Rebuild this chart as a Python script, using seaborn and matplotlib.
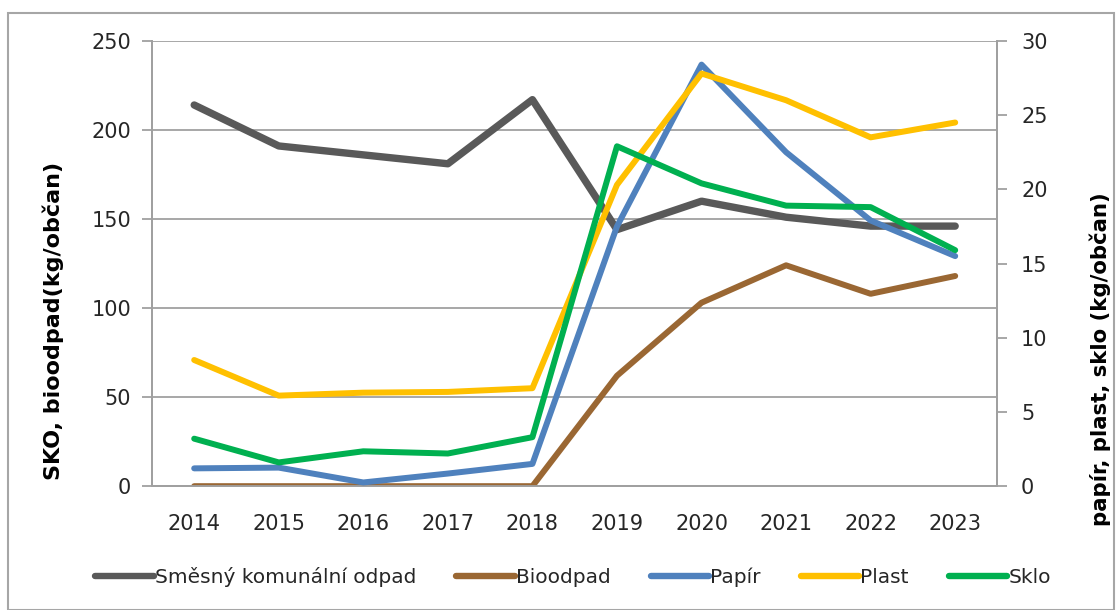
import pandas as pd
import numpy as np
import matplotlib.pyplot as plt
import seaborn as sns
from matplotlib.patches import Rectangle

# data (kg per citizen)
years = ["2014", "2015", "2016", "2017", "2018", "2019", "2020", "2021", "2022", "2023"]
sko = [214, 191, 186, 181, 217, 144, 160, 151, 146, 146]
bioodpad = [0, 0, 0, 0, 0, 62, 103, 124, 108, 118]
papir = [1.2, 1.25, 0.25, 0.85, 1.5, 17.5, 28.4, 22.5, 17.9, 15.5]
plast = [8.5, 6.1, 6.3, 6.35, 6.6, 20.3, 27.8, 26.0, 23.5, 24.5]
sklo = [3.2, 1.6, 2.35, 2.2, 3.3, 22.9, 20.4, 18.9, 18.8, 15.9]

left_series = {"Směsný komunální odpad": sko, "Bioodpad": bioodpad}
right_series = {"Papír": papir, "Plast": plast, "Sklo": sklo}
colors = {
    "Směsný komunální odpad": "#595959",
    "Bioodpad": "#9A6733",
    "Papír": "#4F81BD",
    "Plast": "#FFC000",
    "Sklo": "#00B050",
}

sns.set_style("white")
plt.rcParams["font.family"] = ["DejaVu Sans"]

x = np.arange(len(years))
df_left = pd.DataFrame(
    [(i, v, k) for k, vals in left_series.items() for i, v in zip(x, vals)],
    columns=["x", "value", "series"],
)
df_right = pd.DataFrame(
    [(i, v, k) for k, vals in right_series.items() for i, v in zip(x, vals)],
    columns=["x", "value", "series"],
)

fig = plt.figure(figsize=(11.17, 6.10), dpi=100)
ax = fig.add_axes([0.136, 0.203, 0.757, 0.730])
ax2 = ax.twinx()

sns.lineplot(data=df_left, x="x", y="value", hue="series", palette=colors,
             linewidth=4.3, ax=ax, legend=False, zorder=3)
sns.lineplot(data=df_right, x="x", y="value", hue="series", palette=colors,
             linewidth=4.3, ax=ax2, legend=False, zorder=3)
# SKO is drawn a bit heavier in the original
ax.get_lines()[0].set_linewidth(5.3)
for line in ax.get_lines() + ax2.get_lines():
    line.set_solid_capstyle("round")
    line.set_solid_joinstyle("round")

grid_c = "#A0A0A0"
text_c = "#262626"

ax.set_xlim(-0.5, len(years) - 0.5)
ax.set_ylim(0, 250)
ax.set_yticks(range(0, 251, 50))
ax2.set_ylim(0, 30)
ax2.set_yticks(range(0, 31, 5))

ax.set_xticks(x)
ax.set_xticklabels(years)
ax.set_xticks(np.arange(-0.5, len(years)), minor=True)
ax.tick_params(axis="x", which="major", length=0, pad=20, labelsize=15, labelcolor=text_c)
ax.tick_params(axis="x", which="minor", length=6, width=1.3, color=grid_c, direction="out")
ax.tick_params(axis="y", length=7, width=1.3, color=grid_c, direction="out",
               labelsize=15, labelcolor=text_c, pad=8, left=True)
ax2.tick_params(axis="y", length=7, width=1.3, color=grid_c, direction="out",
                labelsize=15, labelcolor=text_c, pad=10, right=True)

ax.grid(axis="y", color=grid_c, linewidth=1.3)
ax.set_axisbelow(True)
ax.set_xlabel("")
ax.set_ylabel("SKO, bioodpad(kg/občan)", fontsize=16, fontweight="bold", color="black")
ax2.set_ylabel("papír, plast, sklo (kg/občan)", fontsize=15.3, fontweight="bold", color="black")
# the original puts both axis titles lower than the plot centre
ax.yaxis.set_label_coords(-0.104, 0.371)
ax2.yaxis.set_label_coords(1.109, 0.285)

for a in (ax, ax2):
    a.spines["top"].set_visible(False)
    for side in ["left", "right", "bottom"]:
        a.spines[side].set_color(grid_c)
        a.spines[side].set_linewidth(1.3)

# legend, same order as the reference
handles = ax.get_lines() + ax2.get_lines()
labels = list(left_series) + list(right_series)
leg = fig.legend(handles, labels, loc="center", bbox_to_anchor=(0.513, 0.054), ncol=5,
                 frameon=False, fontsize=14.5, handlelength=2.9, handletextpad=0.05,
                 columnspacing=2.0, labelcolor=text_c)
for h in leg.get_lines():
    h.set_linewidth(4.6)
    h.set_solid_capstyle("round")

# outer chart-area frame
fig.patches.append(Rectangle((0.007, 0.0), 0.99, 0.979, transform=fig.transFigure,
                             fill=False, edgecolor="#A6A6A6", linewidth=1.5))

fig.savefig("out.png", dpi=100)
